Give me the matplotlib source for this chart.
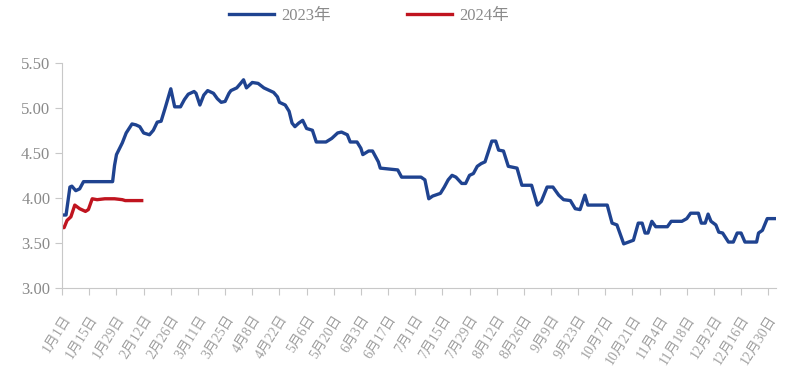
import matplotlib
matplotlib.use("Agg")
import matplotlib.pyplot as plt

# day offset from 1月1日, price
days_2023 = [0, 2, 4, 5, 7, 9, 11, 26, 27, 28, 31, 33, 36, 38, 40, 42, 45, 47, 49, 51,
             53, 56, 58, 61, 63, 65, 68, 69, 71, 73, 75, 78, 80, 82, 84, 86, 87, 90, 92, 93.5,
             95, 98, 101, 104, 106, 109, 111, 112, 115, 117, 118.5, 120, 122, 124, 126, 129, 131, 136, 139, 142,
             144, 147, 148.5, 152, 154, 155, 158, 160, 163, 164, 173, 175, 185, 187, 189, 191, 195, 197, 199, 201,
             203, 206, 208, 210, 212, 214, 216, 218, 220, 221.5, 223.5, 225, 227.5, 230, 234.5, 237, 242, 245, 247, 250,
             253, 256, 258.5, 262, 264.5, 267, 269.5, 271, 281, 283.5, 286, 289.5, 292, 294.5, 297, 299, 300.5, 302, 304, 306,
             312, 314, 319.5, 322, 324, 328, 329.5, 331.5, 333, 334.5, 337, 338.5, 340.5, 343.5, 346, 348, 350, 352, 358, 359,
             361, 363.5, 368]
vals_2023 = [3.81, 3.81, 4.12, 4.13, 4.08, 4.10, 4.18, 4.18, 4.36, 4.48, 4.61, 4.72, 4.82, 4.81, 4.79, 4.72, 4.70, 4.75, 4.84, 4.85,
             4.99, 5.21, 5.01, 5.01, 5.09, 5.15, 5.18, 5.16, 5.03, 5.14, 5.19, 5.16, 5.10, 5.06, 5.07, 5.16, 5.19, 5.22, 5.27, 5.31,
             5.22, 5.28, 5.27, 5.22, 5.20, 5.17, 5.12, 5.06, 5.03, 4.96, 4.83, 4.79, 4.83, 4.86, 4.77, 4.75, 4.62, 4.62, 4.66, 4.72,
             4.73, 4.70, 4.62, 4.62, 4.55, 4.48, 4.52, 4.52, 4.40, 4.33, 4.31, 4.23, 4.23, 4.20, 3.99, 4.02, 4.05, 4.12, 4.20, 4.25,
             4.23, 4.16, 4.16, 4.25, 4.27, 4.35, 4.38, 4.40, 4.53, 4.63, 4.63, 4.53, 4.52, 4.35, 4.33, 4.14, 4.14, 3.92, 3.96, 4.12,
             4.12, 4.03, 3.98, 3.97, 3.88, 3.87, 4.03, 3.92, 3.92, 3.72, 3.70, 3.49, 3.51, 3.53, 3.72, 3.72, 3.61, 3.61, 3.74, 3.68,
             3.68, 3.74, 3.74, 3.77, 3.83, 3.83, 3.72, 3.72, 3.82, 3.74, 3.70, 3.62, 3.61, 3.51, 3.51, 3.61, 3.61, 3.51, 3.51, 3.61,
             3.64, 3.77, 3.77]

days_2024 = [0, 1, 2.5, 4.5, 6.5, 9, 12, 13.5, 15.5, 18, 22, 27, 31, 32.5, 41]
vals_2024 = [3.67, 3.67, 3.75, 3.79, 3.92, 3.88, 3.85, 3.87, 3.99, 3.98, 3.99, 3.99, 3.98, 3.97, 3.97]

tick_days = list(range(0, 365, 14))
tick_labels = ["1月1日", "1月15日", "1月29日", "2月12日", "2月26日", "3月11日", "3月25日",
               "4月8日", "4月22日", "5月6日", "5月20日", "6月3日", "6月17日", "7月1日",
               "7月15日", "7月29日", "8月12日", "8月26日", "9月9日", "9月23日", "10月7日",
               "10月21日", "11月4日", "11月18日", "12月2日", "12月16日", "12月30日"]
y_ticks = [3.00, 3.50, 4.00, 4.50, 5.00, 5.50]

plt.rcParams['font.family'] = ['Liberation Serif', 'Noto Sans CJK SC', 'DejaVu Sans']

grey = "#8a8a8a"
fig = plt.figure(figsize=(7.87, 3.82), dpi=100)
ax = fig.add_axes([0.079, 0.246, 0.907, 0.59])

ax.plot(days_2023, vals_2023, color="#1f4390", lw=2.4, label="2023年")
ax.plot(days_2024, vals_2024, color="#c0141f", lw=2.4, label="2024年")

ax.set_xlim(0, 368)
ax.set_ylim(3.0, 5.5)
ax.set_yticks(y_ticks)
ax.set_yticklabels([f"{v:.2f}" for v in y_ticks], fontsize=12, color=grey)
ax.set_xticks(tick_days)
ax.set_xticklabels(tick_labels, rotation=58, ha="right", rotation_mode="anchor",
                   fontsize=10, color="#a0a0a0")

for s in ["top", "right"]:
    ax.spines[s].set_visible(False)
for s in ["left", "bottom"]:
    ax.spines[s].set_color("#c8c8c8")
ax.tick_params(axis="both", colors="#c8c8c8", length=5)
ax.tick_params(axis="y", labelcolor=grey)
ax.tick_params(axis="x", labelcolor="#a0a0a0", pad=13)

leg = fig.legend(loc="upper center", bbox_to_anchor=(0.469, 1.018), ncol=2, frameon=False,
                 fontsize=12, handlelength=2.7, columnspacing=4.6, handletextpad=0.4)
for t in leg.get_texts():
    t.set_color(grey)

fig.savefig("out.png", dpi=100)
